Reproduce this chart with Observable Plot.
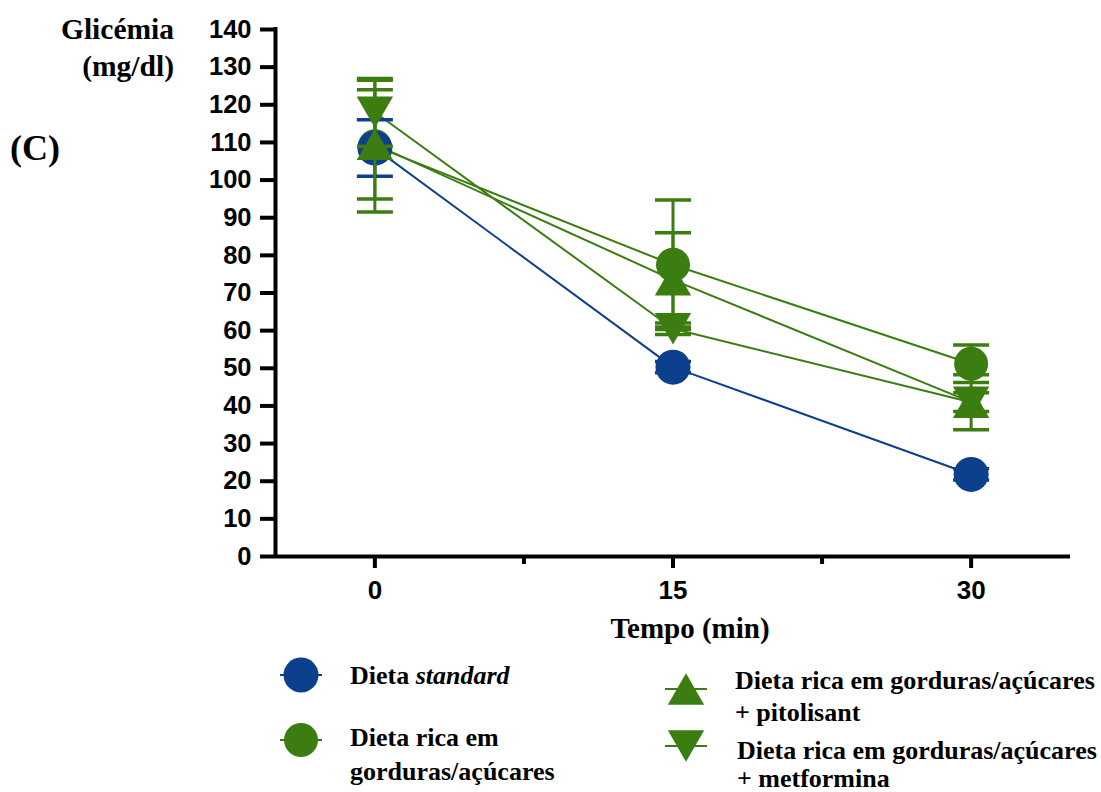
<!DOCTYPE html>
<html><head><meta charset="utf-8">
<script src="https://cdn.jsdelivr.net/npm/d3@7"></script>
<script src="https://cdn.jsdelivr.net/npm/@observablehq/plot@0.6"></script>
<style>
html,body{margin:0;padding:0;background:#fff;}
body{width:1101px;height:792px;overflow:hidden;position:relative;}
#chart{position:absolute;left:0;top:0;}
.t{position:absolute;white-space:nowrap;font-family:"Liberation Serif","Times New Roman",serif;font-weight:bold;color:#000;line-height:1;}
.leg{position:absolute;}
</style></head><body>
<div id="chart"></div>
<script>
// ---- data ----
const times = [0, 15, 30];
const meanStandard = [108.5, 50.3, 21.8];
const semStandard  = [7.5, 1.5, 1.5];
const meanHfd      = [109, 77.5, 51.2];
const semHfd       = [17.5, 17.2, 5];
const meanPito     = [109.5, 73.5, 41];
const semPito      = [14.5, 12.5, 7.3];
const meanMetf     = [118, 60.5, 41];
const semMetf      = [9, 1.5, 2.5];
const yTicks = [0,10,20,30,40,50,60,70,80,90,100,110,120,130,140];
const xMajorTicks = [0, 15, 30];
const xMinorTicks = [7.5, 22.5];
const blue = "#0c3f8c", green = "#3c7d11";

// ---- symbols ----
const triUp = {draw(ctx, size){ const k = Math.sqrt(size/(3*Math.sqrt(3))); const s = Math.sqrt(3)*k;
  ctx.moveTo(0,-1.5*k); ctx.lineTo(s,1.5*k); ctx.lineTo(-s,1.5*k); ctx.closePath(); }};
const triDown = {draw(ctx, size){ const k = Math.sqrt(size/(3*Math.sqrt(3))); const s = Math.sqrt(3)*k;
  ctx.moveTo(0,1.5*k); ctx.lineTo(s,-1.5*k); ctx.lineTo(-s,-1.5*k); ctx.closePath(); }};
const hline = {draw(ctx, size){ const w = Math.sqrt(size/Math.PI); ctx.moveTo(-w,0); ctx.lineTo(w,0); }};

const sStandard = {key:"standard", mean:meanStandard, sem:semStandard, color:blue, symbol:"circle", r:17.5};
const sHfd = {key:"hfd", mean:meanHfd, sem:semHfd, color:green, symbol:"circle", r:17};
const sPito = {key:"pito", mean:meanPito, sem:semPito, color:green, symbol:triUp, r:13.5};
const sMetf = {key:"metf", mean:meanMetf, sem:semMetf, color:green, symbol:triDown, r:13.5};
const drawOrder = [sHfd, sStandard, sPito, sMetf];
const rowsOf = s => times.map((t,i) => ({t, mean:s.mean[i], lo:s.mean[i]-s.sem[i], hi:s.mean[i]+s.sem[i]}));

const marks = [];
for (const s of drawOrder) marks.push(Plot.line(rowsOf(s), {x:"t", y:"mean", stroke:s.color, strokeWidth:2}));
for (const s of drawOrder) {
  const rows = rowsOf(s);
  marks.push(Plot.ruleX(rows, {x:"t", y1:"lo", y2:"hi", stroke:s.color, strokeWidth:3}));
  marks.push(Plot.dot(rows, {x:"t", y:"lo", symbol:hline, r:18, fill:"none", stroke:s.color, strokeWidth:3.5}));
  marks.push(Plot.dot(rows, {x:"t", y:"hi", symbol:hline, r:18, fill:"none", stroke:s.color, strokeWidth:3.5}));
  marks.push(Plot.dot(rows, {x:"t", y:"mean", symbol:s.symbol, r:s.r, fill:s.color, stroke:"none"}));
}

const font = "'Liberation Sans', Arial, sans-serif";
const chart = Plot.plot({
  width:1101, height:792,
  marginLeft:275, marginRight:31, marginTop:29, marginBottom:236,
  style:{background:"transparent", overflow:"visible", color:"#000"},
  x:{domain:[-5,35]},
  y:{domain:[0,140]},
  marks:[
    Plot.axisY({ticks:yTicks, tickSize:15, tickPadding:9, strokeWidth:4, fontSize:25.5, fontWeight:"bold", fontFamily:font, label:null}),
    Plot.axisX({ticks:xMajorTicks, tickSize:12, tickPadding:12, strokeWidth:4, fontSize:26, fontWeight:"bold", fontFamily:font, label:null}),
    Plot.axisX({ticks:xMinorTicks, tickSize:8, strokeWidth:4, tickFormat:() => "", label:null}),
    Plot.ruleX([-5], {y1:0, y2:140, strokeWidth:4, strokeLinecap:"square"}),
    Plot.ruleY([0], {x1:-5, x2:35, strokeWidth:4}),
    ...marks
  ]
});
document.getElementById("chart").appendChild(chart);

// ---- overlay text ----
function addText(html, opts){
  const d = document.createElement("div");
  d.className = "t"; d.innerHTML = html;
  const fs = opts.fs;
  d.style.fontSize = fs + "px";
  d.style.top = (opts.cy - fs/2) + "px";
  if (opts.right != null) { d.style.right = (1101 - opts.right) + "px"; d.style.textAlign = "right"; }
  else if (opts.cx != null) { d.style.left = opts.cx + "px"; d.style.transform = "translateX(-50%)"; }
  else d.style.left = opts.left + "px";
  document.body.appendChild(d);
}
addText("Glicémia", {fs:29.5, cy:30, right:174});
addText("(mg/dl)", {fs:29.5, cy:67, right:174});
addText("(C)", {fs:36, cy:148, left:10});
addText("Tempo (min)", {fs:29, cy:628, cx:690});

// ---- legend ----
const legendItems = [
  {s:sStandard, mx:301, my:675, lines:["Dieta <i>standard</i>"], tx:350, ty:[676]},
  {s:sHfd, mx:301, my:740, lines:["Dieta rica em","gorduras/açúcares"], tx:350, ty:[738,772]},
  {s:sPito, mx:686, my:689, lines:["Dieta rica em gorduras/açúcares","+ pitolisant"], tx:735, ty:[681,713]},
  {s:sMetf, mx:686, my:746, lines:["Dieta rica em gorduras/açúcares","+ metformina"], tx:737, ty:[751,779]}
];
for (const it of legendItems) {
  const svg = d3.create("svg").attr("class","leg").attr("width",60).attr("height",50)
    .style("left",(it.mx-30)+"px").style("top",(it.my-25)+"px");
  svg.append("line").attr("x1",9).attr("x2",51).attr("y1",25).attr("y2",25).attr("stroke",it.s.color).attr("stroke-width",2);
  const sym = typeof it.s.symbol === "string" ? d3.symbolCircle : it.s.symbol;
  svg.append("path").attr("transform","translate(30,25)")
    .attr("d", d3.symbol(sym, Math.PI*it.s.r*it.s.r)()).attr("fill",it.s.color);
  document.body.appendChild(svg.node());
  it.lines.forEach((l,i) => addText(l, {fs:26, cy:it.ty[i], left:it.tx}));
}
</script>
</body></html>
